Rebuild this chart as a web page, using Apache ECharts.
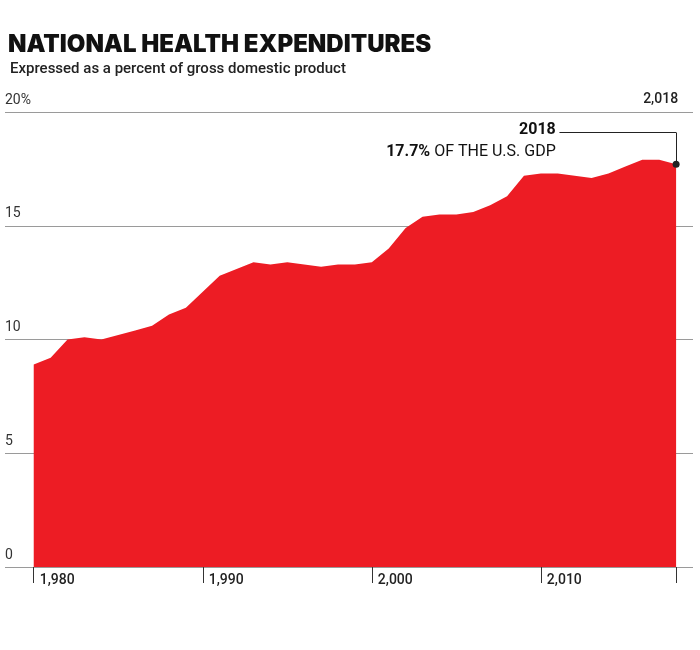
<!DOCTYPE html><html><head><meta charset="utf-8"><script src="https://cdn.jsdelivr.net/npm/echarts@6/dist/echarts.min.js"></script>
<style>body{margin:0}#c{width:700px;height:650px}</style></head><body><div id="c"></div><script>
const years=[1980,1981,1982,1983,1984,1985,1986,1987,1988,1989,1990,1991,1992,1993,1994,1995,1996,1997,1998,1999,2000,2001,2002,2003,2004,2005,2006,2007,2008,2009,2010,2011,2012,2013,2014,2015,2016,2017,2018];
const pctGDP=[8.9,9.2,10.0,10.1,10.0,10.2,10.4,10.6,11.1,11.4,12.1,12.8,13.1,13.4,13.3,13.4,13.3,13.2,13.3,13.3,13.4,14.0,14.9,15.4,15.5,15.5,15.6,15.9,16.3,17.2,17.3,17.3,17.2,17.1,17.3,17.6,17.9,17.9,17.7];
const xTicks=[1980,1990,2000,2010];
const yTicks=[0,5,10,15,20];
const ch=echarts.init(document.getElementById('c'));
const F='Roboto, "Liberation Sans", sans-serif';
const xBase={type:'value',min:1978.3,max:2019,axisLine:{show:false},splitLine:{show:false}};
ch.setOption({
animation:false,
title:[{text:'NATIONAL HEALTH EXPENDITURES',left:3,top:28,textStyle:{fontFamily:'Inter, '+F,fontWeight:900,fontSize:24,color:'#111',letterSpacing:-1}},
{text:'Expressed as a percent of gross domestic product',left:5,top:57,textStyle:{fontFamily:F,fontWeight:500,fontSize:15,color:'#222'}},
{text:'SOURCE: CENTERS FOR MEDICARE & MEDICAID SERVICES, OFFICE OF THE ACTUARY, NATIONAL HEALTH STATISTICS GROUP;\nU.S. DEPARTMENT OF COMMERCE, BUREAU OF ECONOMIC ANALYSIS; AND U.S. BUREAU OF THE CENSUS',right:6,top:600,textAlign:'right',textStyle:{fontFamily:'"Roboto Condensed", '+F,fontWeight:400,fontSize:11.5,lineHeight:17,color:'#222',width:700}}],
grid:{left:5,right:7,top:112,bottom:83},
xAxis:[Object.assign({},xBase,{axisTick:{show:true,length:16,lineStyle:{color:'#333'},customValues:xTicks.concat([2018])},axisLabel:{customValues:xTicks,align:'left',margin:6,padding:[0,0,0,6],fontFamily:F,fontWeight:500,fontSize:14,color:'#222'}}),
Object.assign({},xBase,{axisTick:{show:false},axisLabel:{customValues:[2018],align:'right',margin:6,padding:[0,-2,0,0],fontFamily:F,fontWeight:500,fontSize:14,color:'#222'}})],
yAxis:{type:'value',min:0,max:20,interval:5,axisLine:{show:false},axisTick:{show:false},splitLine:{lineStyle:{color:'#9a9a9a',width:1}},
axisLabel:{inside:true,verticalAlign:'bottom',margin:0,padding:[0,0,5,0],fontFamily:F,fontSize:14,color:'#333',formatter:v=>v===20?'20%':v}},
series:[{type:'line',data:years.map((y,i)=>[y,pctGDP[i]]),symbol:'none',lineStyle:{width:0},areaStyle:{color:'#ed1c24',opacity:1},z:1,
markLine:{silent:true,symbol:'none',lineStyle:{color:'#222',width:1,type:'solid'},label:{show:false},
data:[[{coord:[2018,17.7]},{coord:[2018,19.1]}],[{coord:[2018,19.1]},{coord:[2011.1,19.1]}]]},
markPoint:{silent:true,data:[{coord:[2018,17.7],symbol:'circle',symbolSize:7,itemStyle:{color:'#222'},label:{show:false}},
{coord:[2011.0,19.1],symbol:'circle',symbolSize:0,label:{show:true,position:'left',distance:2,offset:[0,9],align:'right',lineHeight:22,
formatter:'{b|2018}\n{b|17.7%}{n| OF THE U.S. GDP}',rich:{b:{fontFamily:F,fontWeight:700,fontSize:16,color:'#111',lineHeight:22},n:{fontFamily:F,fontSize:16,color:'#111',lineHeight:22}}}}]}},
{type:'line',xAxisIndex:1,data:[],silent:true}]
});
</script></body></html>
